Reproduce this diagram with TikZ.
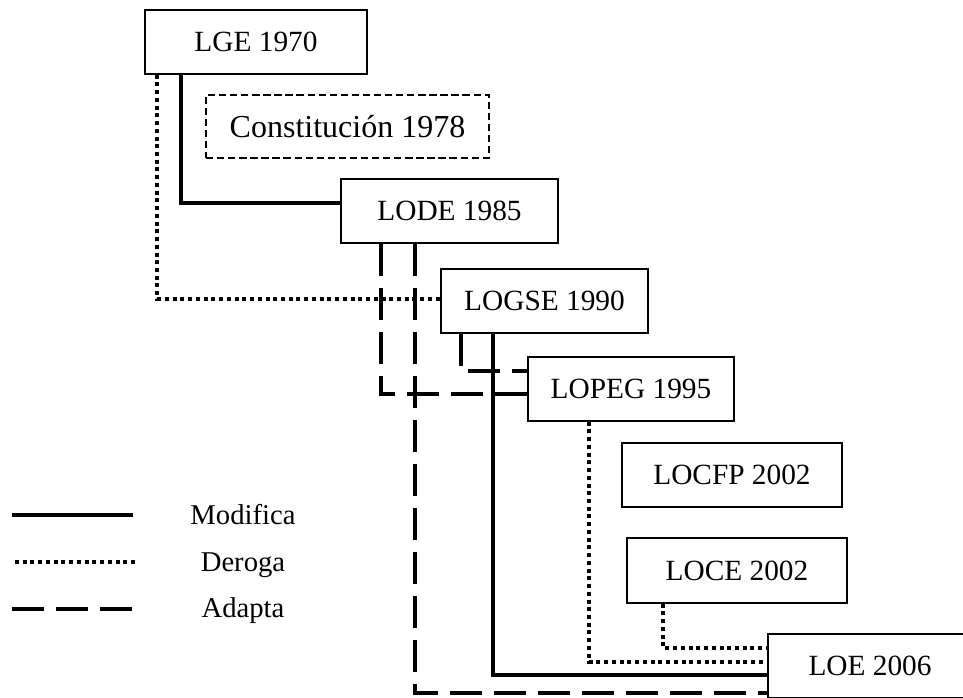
\documentclass[tikz,border=0pt]{standalone}
\usepackage{fontspec}
\setmainfont{Liberation Serif}
\usetikzlibrary{calc}
\begin{document}
\begin{tikzpicture}[x=0.75pt,y=-0.75pt,
  lawbox/.style 2 args={draw, line width=1pt, inner sep=0pt,
    minimum width=#1*0.75pt, minimum height=#2*0.75pt,
    font=\fontsize{22}{26}\selectfont},
  modifica/.style={line width=3pt},
  deroga/.style={line width=3pt, dash pattern=on 3pt off 2.8pt},
  adapta/.style={line width=3pt, dash pattern=on 24pt off 9pt},
  constbox/.style={line width=1.2pt, dash pattern=on 5.5pt off 2.8pt,
    font=\fontsize{24}{28}\selectfont},
  legtext/.style={anchor=base, font=\fontsize{21.5}{26}\selectfont}]
\useasboundingbox (0,0) rectangle (963,697);
\clip (0,0) rectangle (963,697);

% laws
\node[lawbox={222}{64}] (lge) at (256,42) {LGE 1970};
\node[lawbox={283}{63}, constbox] (const) at (347.5,126.5) {Constitución 1978};
\node[lawbox={217}{64}] (lode) at (449.5,211) {LODE 1985};
\node[lawbox={207}{64}] (logse) at (544.5,301) {LOGSE 1990};
\node[lawbox={206}{64}] (lopeg) at (631,389) {LOPEG 1995};
\node[lawbox={220}{64}] (locfp) at (732,475) {LOCFP 2002};
\node[lawbox={220}{65}] (loce) at (737,570.5) {LOCE 2002};
\node[lawbox={204}{64}] (loe) at (870,666) {LOE 2006};

% relations
\draw[deroga] ($(lge.south west)+(13,0)$) |- ($(logse.west)+(0,-2)$);
\draw[modifica] ($(lge.south west)+(37,0)$) |- ($(lode.west)+(0,-8)$);
\draw[adapta] ($(lode.south west)+(41,0)$) |- ($(lopeg.west)+(0,5)$);
\draw[adapta] ($(lode.south west)+(75,0)$) |- ($(loe.west)+(0,27)$);
\draw[adapta] ($(logse.south west)+(21,0)$) |- ($(lopeg.west)+(0,-18)$);
\draw[modifica] ($(logse.south west)+(53,0)$) |- ($(loe.west)+(0,9)$);
\draw[deroga] ($(lopeg.south west)+(62,0)$) |- ($(loe.west)+(0,-4)$);
\draw[deroga] ($(loce.south west)+(37,0)$) |- ($(loe.west)+(0,-18)$);

% legend
\coordinate (m1) at (12,515);  \coordinate (m2) at (133,515);
\coordinate (d1) at (15,562);  \coordinate (d2) at (137,562);
\coordinate (a1) at (12,609);  \coordinate (a2) at (133,609);
\draw[modifica] (m1) -- (m2);
\draw[deroga] (d1) -- (d2);
\draw[adapta] (a1) -- (a2);
\node[legtext] (tm) at (243,524) {Modifica};
\node[legtext] (td) at (243,571) {Deroga};
\node[legtext] (ta) at (243,617) {Adapta};
\end{tikzpicture}
\end{document}
